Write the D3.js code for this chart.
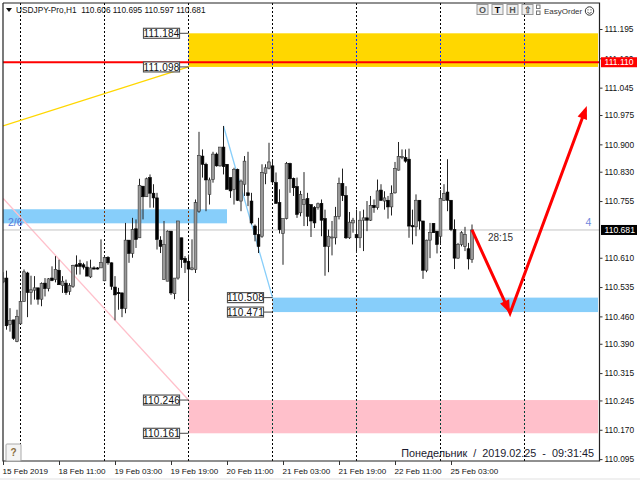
<!DOCTYPE html>
<html>
<head>
<meta charset="utf-8">
<script src="https://d3js.org/d3.v7.min.js"></script>
<style>
html, body { margin: 0; padding: 0; background: #fff; }
text { font-family: "Liberation Sans", sans-serif; }
</style>
</head>
<body>
<div id="chart"></div>
<script>
var w = 640;
var h = 480;

// Hourly bars, bar 0 is the midnight of 19 Feb (first dashed line inside the chart)
var firstBar = -29;
var opens = [110.548,110.558,110.439,110.451,110.396,110.441,110.498,110.571,110.521,110.527,110.533,110.504,110.545,110.531,110.558,110.554,110.578,110.539,110.545,110.524,110.537,110.592,110.595,110.592,110.586,110.561,110.584,110.584,110.584,
  110.551,110.611,110.597,110.535,110.521,110.520,110.480,110.655,110.621,110.684,110.661,110.793,110.766,110.815,110.775,110.763,
  110.655,110.554,110.550,110.678,110.518,110.558,110.661,110.608,110.601,110.580,110.580,110.729,110.870,110.849,110.772,110.810,110.875,110.845,110.893,110.849,110.815,110.785,110.836,110.755,110.798,110.776,110.755,110.691,110.669,110.665,110.826,110.839,110.845,110.802,110.751,110.672,110.710,110.851,110.813,110.792,110.725,110.746,110.761,110.746,110.738,110.739,
  110.749,110.710,110.639,110.661,110.661,110.715,110.800,110.769,110.661,110.699,110.669,110.661,110.706,110.712,110.706,110.744,110.738,110.783,110.755,110.757,110.740,110.776,110.834,110.866,110.866,110.862,110.692,110.689,110.757,110.704,110.578,110.655,110.698,110.678,110.665,110.757,110.778,110.757,110.682,110.609,110.644,110.639,110.633,110.606];
var highs = [110.573,110.577,110.481,110.451,110.477,110.520,110.580,110.574,110.564,110.563,110.533,110.547,110.558,110.558,110.588,110.614,110.605,110.563,110.554,110.545,110.592,110.616,110.605,110.597,110.601,110.605,110.588,110.586,110.657,
  110.616,110.614,110.598,110.563,110.533,110.521,110.699,110.655,110.712,110.708,110.812,110.793,110.815,110.823,110.798,110.776,
  110.665,110.704,110.680,110.678,110.558,110.704,110.661,110.614,110.618,110.657,110.759,110.932,110.887,110.853,110.815,110.881,110.879,110.893,110.947,110.849,110.815,110.840,110.838,110.810,110.870,110.881,110.776,110.695,110.712,110.849,110.849,110.904,110.862,110.828,110.785,110.710,110.855,110.853,110.815,110.815,110.781,110.829,110.776,110.746,110.742,110.751,
  110.759,110.733,110.682,110.704,110.740,110.815,110.838,110.793,110.727,110.712,110.733,110.729,110.733,110.755,110.768,110.759,110.810,110.798,110.780,110.768,110.795,110.855,110.906,110.887,110.887,110.889,110.733,110.772,110.757,110.704,110.656,110.699,110.698,110.678,110.783,110.798,110.862,110.757,110.708,110.648,110.678,110.689,110.648,110.695];
var lows = [110.545,110.426,110.421,110.400,110.394,110.441,110.498,110.458,110.490,110.503,110.490,110.486,110.511,110.524,110.550,110.547,110.541,110.520,110.515,110.515,110.533,110.567,110.567,110.580,110.563,110.558,110.580,110.580,110.584,
  110.550,110.592,110.528,110.450,110.477,110.458,110.468,110.597,110.610,110.635,110.661,110.708,110.766,110.738,110.738,110.631,
  110.622,110.554,110.550,110.515,110.504,110.554,110.584,110.571,110.503,110.578,110.571,110.725,110.815,110.729,110.746,110.802,110.843,110.843,110.823,110.785,110.763,110.746,110.755,110.729,110.768,110.742,110.695,110.652,110.622,110.661,110.798,110.836,110.798,110.749,110.672,110.592,110.708,110.776,110.768,110.712,110.716,110.691,110.691,110.663,110.686,110.733,
  110.665,110.564,110.573,110.616,110.644,110.708,110.755,110.658,110.658,110.674,110.622,110.635,110.627,110.678,110.704,110.725,110.733,110.755,110.733,110.710,110.718,110.774,110.833,110.862,110.853,110.661,110.644,110.665,110.682,110.556,110.573,110.609,110.674,110.621,110.644,110.755,110.729,110.678,110.581,110.607,110.639,110.627,110.580,110.597];
var closes = [110.558,110.436,110.450,110.404,110.460,110.498,110.574,110.521,110.528,110.533,110.504,110.544,110.531,110.556,110.552,110.580,110.541,110.550,110.521,110.539,110.590,110.588,110.588,110.586,110.563,110.584,110.581,110.581,110.598,
  110.611,110.597,110.537,110.515,110.518,110.480,110.655,110.621,110.682,110.657,110.795,110.766,110.812,110.775,110.763,110.657,
  110.639,110.644,110.678,110.520,110.558,110.704,110.605,110.598,110.581,110.584,110.751,110.872,110.849,110.809,110.809,110.875,110.845,110.893,110.843,110.785,110.781,110.836,110.757,110.806,110.857,110.769,110.699,110.669,110.639,110.828,110.840,110.855,110.804,110.749,110.682,110.710,110.851,110.812,110.789,110.721,110.772,110.759,110.716,110.704,110.699,110.748,
  110.706,110.639,110.665,110.663,110.715,110.800,110.769,110.661,110.701,110.706,110.661,110.706,110.712,110.706,110.744,110.738,110.781,110.757,110.763,110.740,110.774,110.838,110.869,110.869,110.857,110.691,110.689,110.757,110.704,110.578,110.655,110.675,110.674,110.644,110.761,110.774,110.757,110.682,110.609,110.644,110.674,110.669,110.607,110.681];

var priceTicks = [111.195,111.120,111.045,110.975,110.900,110.830,110.755,110.610,110.535,110.460,110.390,110.315,110.245,110.170,110.095];
var timeTickBars = [-29,-13,3,19,35,51,67,83,99];
var timeTickLabels = ["15 Feb 2019","18 Feb 11:00","19 Feb 03:00","19 Feb 19:00","20 Feb 11:00","21 Feb 03:00","21 Feb 19:00","22 Feb 11:00","25 Feb 03:00"];
var dayLines = [-24,0,24,48,72,96,120];

// Zones: [from bar, to bar, top price, bottom price, colour]
var lastBar = 141;
var zones = [
  [24, lastBar, 111.184, 111.098, "#ffd700"],
  [firstBar, 35, 110.734, 110.698, "#87cefa"],
  [48, lastBar, 110.508, 110.471, "#87cefa"],
  [24, lastBar, 110.246, 110.161, "#ffc0cb"]
];
// Trend lines: [bar, price, bar, price, colour]
var trends = [
  [firstBar, 110.947, 24, 111.098, "#ffd700"],
  [firstBar, 110.762, 24, 110.246, "#ffc0cb"],
  [34, 110.947, 48, 110.508, "#87cefa"]
];
// Price tags: [price, left bar, right bar]
var tags = [
  [111.184, 24], [111.098, 24], [110.508, 48], [110.471, 48], [110.246, 24], [110.161, 24]
];
var arrowBars = [105, 115.86, 137.8];
var arrowPrices = [110.681, 110.468, 110.998];
var bidPrice = 110.681;
var linePrice = 111.110;

var x = d3.scaleLinear().domain([0, 1]).range([104.5, 108]);
var y = d3.scaleLinear().domain([111.195, 110.095]).range([29, 459.1]);

var svg = d3.select("#chart").append("svg")
    .attr("width", w)
    .attr("height", h)
    .style("display", "block");

svg.append("rect").attr("width", w).attr("height", h).attr("fill", "#fff");
svg.append("rect").attr("x", 0).attr("y", 478).attr("width", w).attr("height", 2).attr("fill", "#f0f0f0");

// Clip everything to the chart window
svg.append("clipPath").attr("id", "plot").append("rect")
    .attr("x", 3).attr("y", 3).attr("width", 596.5).attr("height", 458);
var plot = svg.append("g").attr("clip-path", "url(#plot)");

// the clip group is isolated, so it needs its own white for the blend below
plot.append("rect").attr("x", 3).attr("y", 3).attr("width", 597).attr("height", 458).attr("fill", "#fff");

plot.selectAll("rect.zone").data(zones).enter().append("rect")
    .attr("class", "zone")
    .attr("x", d => x(d[0]))
    .attr("y", d => y(d[2]))
    .attr("width", d => x(d[1]) - x(d[0]))
    .attr("height", d => y(d[3]) - y(d[2]))
    .attr("fill", d => d[4]);

// Dashed day separators invert what lies under them, as in the terminal
plot.selectAll("line.day").data(dayLines).enter().append("line")
    .attr("class", "day")
    .attr("x1", d => x(d)).attr("x2", d => x(d))
    .attr("y1", 3).attr("y2", 461)
    .attr("stroke", "#fff")
    .attr("stroke-dasharray", "2,2")
    .style("mix-blend-mode", "difference");

plot.selectAll("line.trend").data(trends).enter().append("line")
    .attr("class", "trend")
    .attr("x1", d => x(d[0])).attr("y1", d => y(d[1]))
    .attr("x2", d => x(d[2])).attr("y2", d => y(d[3]))
    .attr("stroke", d => d[4])
    .attr("stroke-width", 1.3);

// Bid line
plot.append("line")
    .attr("x1", 3).attr("x2", 600)
    .attr("y1", y(bidPrice)).attr("y2", y(bidPrice))
    .attr("stroke", "#c4c4c4");

// Candles
var bars = opens.map((o, i) => ({ k: firstBar + i, o: o, h: highs[i], l: lows[i], c: closes[i] }));
var candle = plot.selectAll("g.candle").data(bars).enter().append("g").attr("class", "candle");
candle.append("line")
    .attr("x1", d => x(d.k)).attr("x2", d => x(d.k))
    .attr("y1", d => y(d.h)).attr("y2", d => y(d.l))
    .attr("stroke", "#222")
    .attr("stroke-width", 1);
candle.append("rect")
    .attr("x", d => x(d.k) - 1.4)
    .attr("y", d => y(Math.max(d.o, d.c)))
    .attr("width", 2.8)
    .attr("height", d => Math.max(1, Math.abs(y(d.o) - y(d.c))))
    .attr("fill", d => d.c >= d.o ? "#999" : "#000")
    .attr("stroke", d => d.c >= d.o ? "#333" : "#000")
    .attr("stroke-width", 0.6);

// Red horizontal line
plot.append("line")
    .attr("x1", 3).attr("x2", 600)
    .attr("y1", y(linePrice)).attr("y2", y(linePrice))
    .attr("stroke", "#f00")
    .attr("stroke-width", 2);

// Big red arrows
var arrowPts = arrowBars.map((b, i) => [x(b), y(arrowPrices[i])]);
plot.append("path")
    .attr("d", d3.line()(arrowPts.map((p, i) => {
        if (i === 0) return p;
        // stop short of the tip so the shaft does not poke through the head
        var a = arrowPts[i - 1];
        var t = 1 - 4 / Math.hypot(p[0] - a[0], p[1] - a[1]);
        return i === 1 ? p : [a[0] + (p[0] - a[0]) * t, a[1] + (p[1] - a[1]) * t];
    })))
    .attr("fill", "none")
    .attr("stroke", "#f00")
    .attr("stroke-width", 3);
[1, 2].forEach(i => {
    var a = arrowPts[i - 1], p = arrowPts[i];
    var ang = Math.atan2(p[1] - a[1], p[0] - a[0]);
    var len = 13, wid = 5;
    var bx = p[0] - Math.cos(ang) * len, by = p[1] - Math.sin(ang) * len;
    var nx = -Math.sin(ang) * wid, ny = Math.cos(ang) * wid;
    plot.append("polygon")
        .attr("points", [[p[0], p[1]], [bx + nx, by + ny], [bx - nx, by - ny]].join(" "))
        .attr("fill", "#f00");
});

// Frame
svg.append("path")
    .attr("d", "M3,3V461H599.5V3H3")
    .attr("fill", "none")
    .attr("stroke", "#222")
    .attr("stroke-width", 1.2);

// Price tags with their little connectors
var tag = svg.selectAll("g.tag").data(tags).enter().append("g").attr("class", "tag");
tag.append("line")
    .attr("x1", d => x(d[1]) - 9).attr("x2", d => x(d[1]))
    .attr("y1", d => y(d[0])).attr("y2", d => y(d[0]))
    .attr("stroke", "#444");
tag.append("rect")
    .attr("x", d => x(d[1]) - 45)
    .attr("y", d => y(d[0]) - 5)
    .attr("width", 36)
    .attr("height", 10)
    .attr("fill", "#fff")
    .attr("stroke", "#555")
    .attr("stroke-width", 1.2);
tag.append("text")
    .attr("x", d => x(d[1]) - 27)
    .attr("y", d => y(d[0]) + 3.7)
    .attr("text-anchor", "middle")
    .attr("font-size", 10)
    .attr("letter-spacing", 0.2)
    .attr("fill", "#111")
    .text(d => d[0].toFixed(3));

// Price axis
var yAxis = svg.append("g")
    .attr("transform", "translate(599.5,0)")
    .call(d3.axisRight(y).tickValues(priceTicks).tickSize(3).tickPadding(2).tickFormat(d3.format(".3f")));
yAxis.select(".domain").remove();
yAxis.selectAll("text").attr("font-size", 8.4).attr("fill", "#111").style("font-family", '"Liberation Sans", sans-serif');
yAxis.selectAll("line").attr("stroke", "#333");

// Time axis
var xAxis = svg.append("g")
    .attr("transform", "translate(0,461)")
    .call(d3.axisBottom(x).tickValues(timeTickBars).tickSize(4).tickPadding(3)
        .tickFormat((d, i) => timeTickLabels[i]));
xAxis.select(".domain").remove();
xAxis.selectAll("text").attr("text-anchor", "start").attr("x", -1).attr("font-size", 8.1).attr("fill", "#111")
    .style("font-family", '"Liberation Sans", sans-serif');
xAxis.selectAll("line").attr("stroke", "#333");

// Coloured price boxes on the axis
function priceBox(price, bg) {
    svg.append("rect")
        .attr("x", 601).attr("y", y(price) - 5)
        .attr("width", 36).attr("height", 10)
        .attr("fill", bg);
    svg.append("text")
        .attr("x", 604.5).attr("y", y(price) + 3.2)
        .attr("font-size", 8.6)
        .attr("fill", "#fff")
        .text(price.toFixed(3));
}
priceBox(linePrice, "#f00");
priceBox(bidPrice, "#000");

// Header
svg.append("path").attr("d", "M6,8H12L9,12Z").attr("fill", "#111");
svg.append("text").attr("x", 16).attr("y", 13).attr("font-size", 8.3).attr("fill", "#111")
    .attr("xml:space", "preserve")
    .style("white-space", "pre")
    .text("USDJPY-Pro,H1  110.606 110.695 110.597 110.681");

// Panel buttons
var buttons = [["O", 477], ["T", 492], ["H", 507], ["⇧", 522]];
var btn = svg.selectAll("g.btn").data(buttons).enter().append("g").attr("class", "btn");
btn.append("rect").attr("x", d => d[1]).attr("y", 4.5).attr("width", 11).attr("height", 10)
    .attr("fill", "#eee").attr("stroke", "#999");
btn.append("text").attr("x", d => d[1] + 5.5).attr("y", 13).attr("text-anchor", "middle")
    .attr("font-size", 9).attr("font-weight", "bold")
    .attr("fill", d => d[0] === "T" ? "#000" : "#555")
    .text(d => d[0]);
[5, 11].forEach(t => svg.append("rect").attr("x", 536.5).attr("y", t).attr("width", 3.5).attr("height", 3.5)
    .attr("fill", "#fff").attr("stroke", "#777"));
svg.append("text").attr("x", 544).attr("y", 13.5).attr("font-size", 8).attr("fill", "#333").text("EasyOrder");
svg.append("circle").attr("cx", 589.5).attr("cy", 11).attr("r", 4.2).attr("fill", "#fff").attr("stroke", "#333");
svg.append("path").attr("d", "M587.3,12.2Q589.5,14.6 591.7,12.2").attr("fill", "none").attr("stroke", "#333").attr("stroke-width", 0.8);
svg.append("circle").attr("cx", 588).attr("cy", 9.8).attr("r", 0.6).attr("fill", "#333");
svg.append("circle").attr("cx", 591).attr("cy", 9.8).attr("r", 0.6).attr("fill", "#333");

// Help button
svg.append("rect").attr("x", 6).attr("y", 444).attr("width", 15).attr("height", 17)
    .attr("rx", 1).attr("fill", "#f4f4f4").attr("stroke", "#aaa");
svg.append("text").attr("x", 13.5).attr("y", 456).attr("text-anchor", "middle")
    .attr("font-size", 10).attr("font-weight", "bold").attr("fill", "#8a6d3b").text("?");

// Labels on the chart
svg.append("text").attr("x", 8).attr("y", 226).attr("font-size", 10.5).attr("fill", "#5a78d8").text("2/6");
svg.append("text").attr("x", 585.5).attr("y", 226).attr("font-size", 10.5).attr("fill", "#6f88dd").text("4");
svg.append("text").attr("x", 488).attr("y", 241).attr("font-size", 10).attr("fill", "#333").text("28:15");
svg.append("text").attr("x", 594).attr("y", 457).attr("text-anchor", "end").attr("font-size", 10.8)
    .attr("fill", "#1a1a2e")
    .attr("xml:space", "preserve")
    .style("white-space", "pre")
    .text("Понедельник  /  2019.02.25  -  09:31:45");
</script>
</body>
</html>
